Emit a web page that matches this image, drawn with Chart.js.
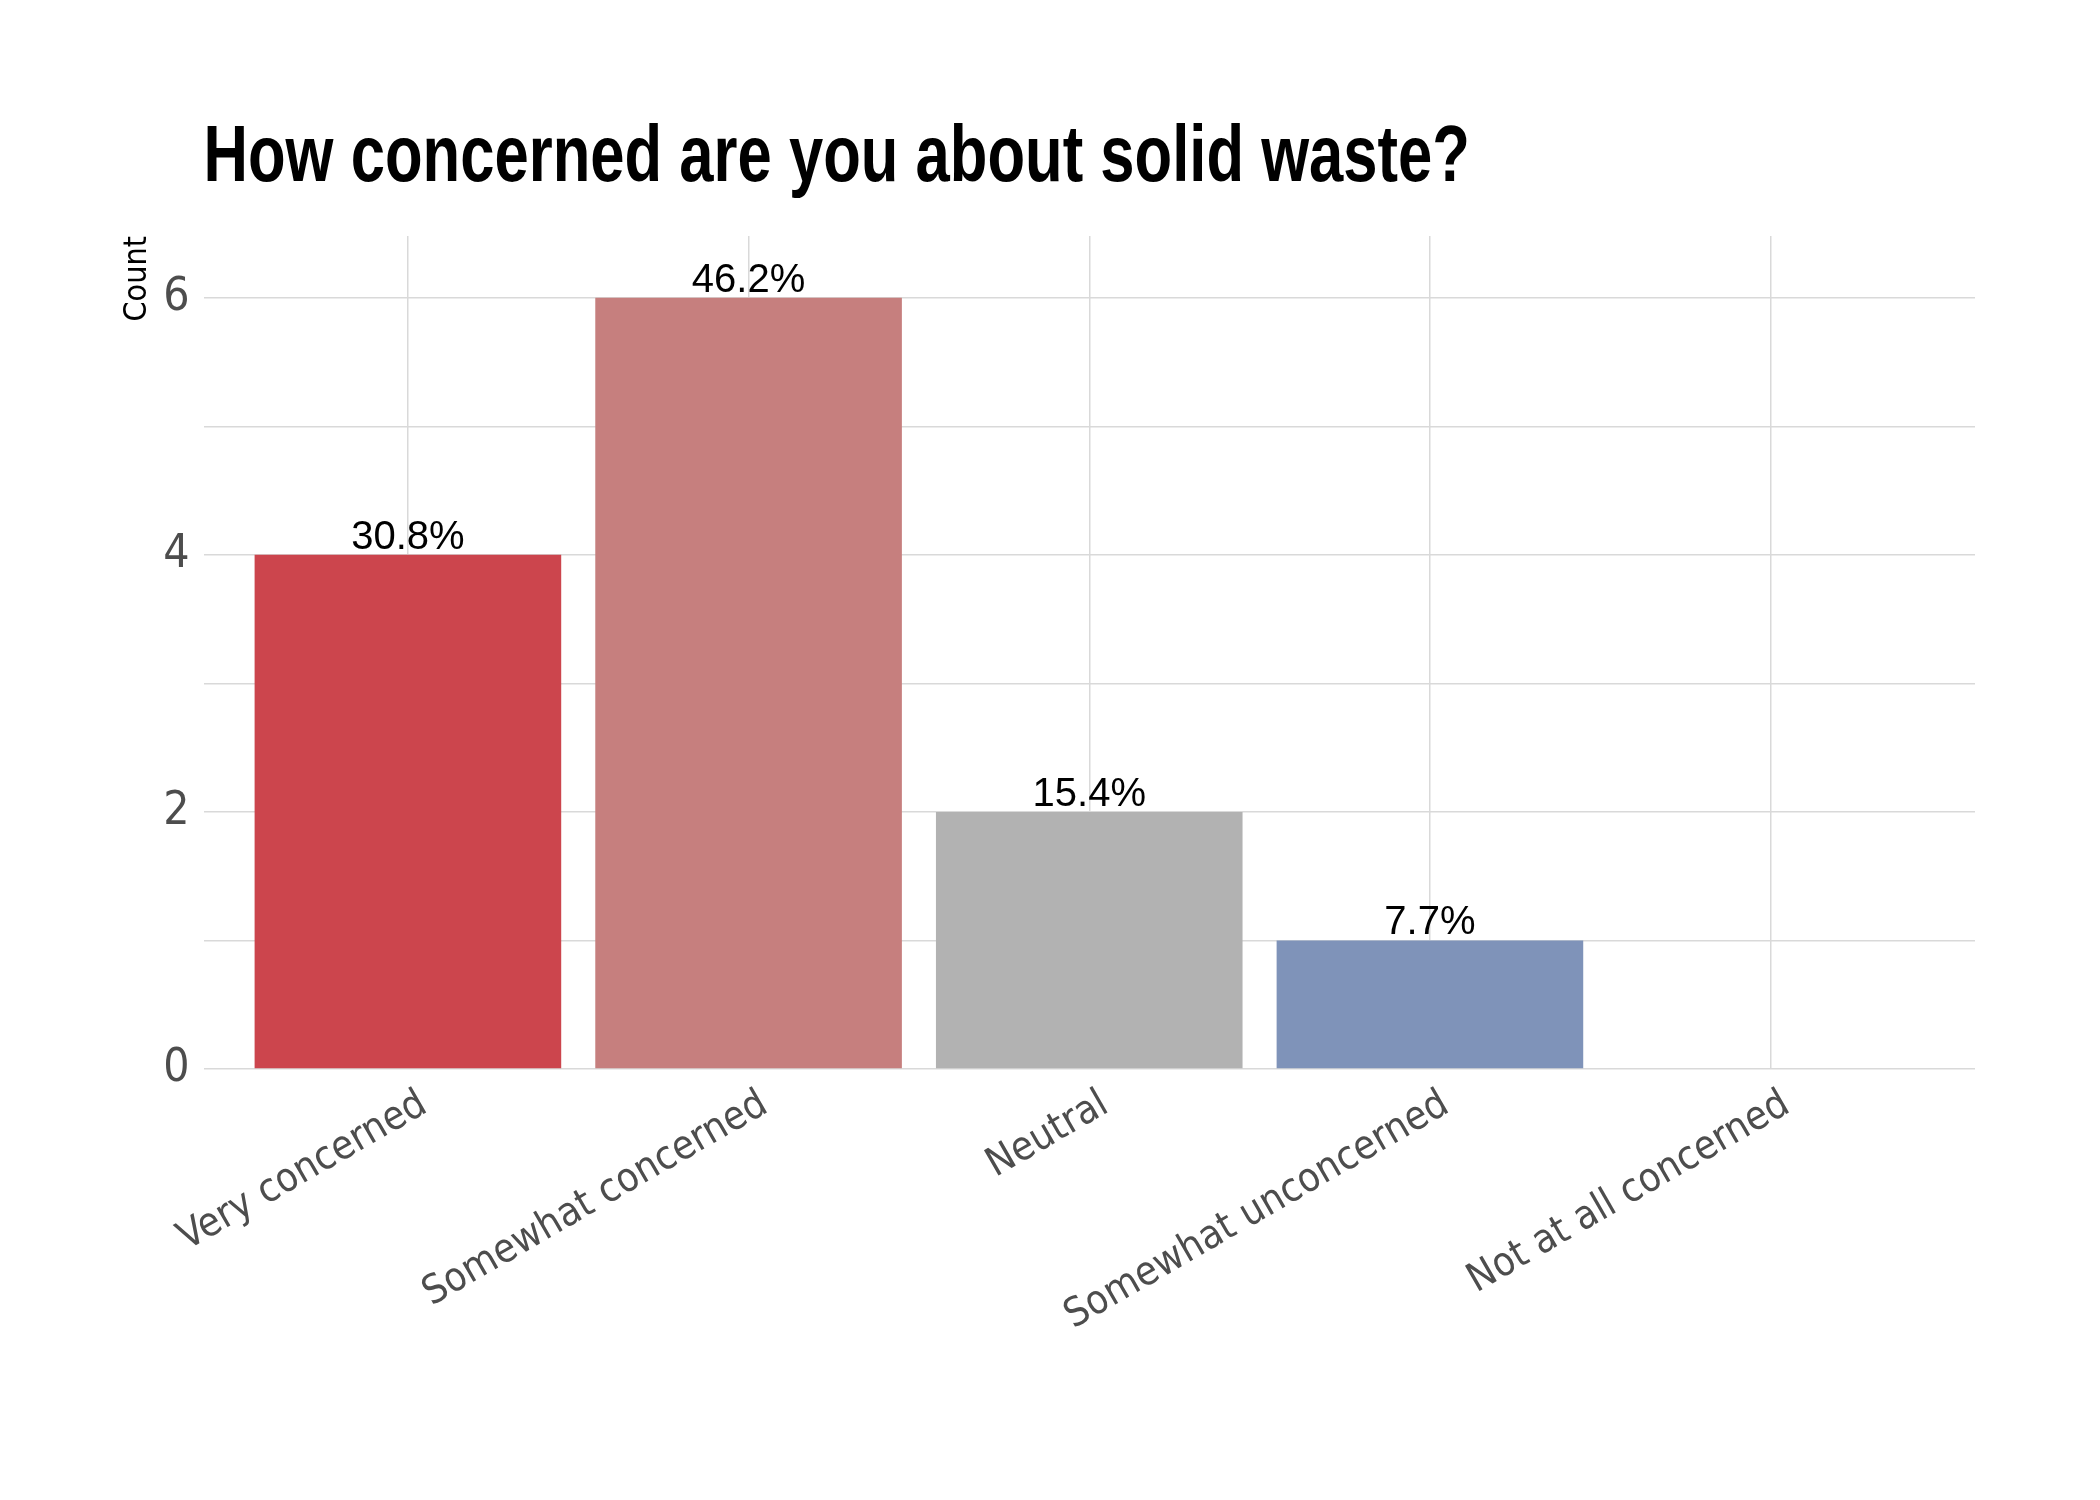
<!DOCTYPE html>
<html lang="en">
<head>
    <meta charset="UTF-8">
    <title>How concerned are you about solid waste?</title>
    <script src="https://cdn.jsdelivr.net/npm/chart.js"></script>
    <style>
        body {
            margin: 0;
            background: #ffffff;
        }
        canvas {
            display: block;
        }
    </style>
</head>
<body>
    <canvas id="chart" width="2100" height="1500"></canvas>

    <script>
        const chartTitle = 'How concerned are you about solid waste?';
        const categories = ['Very concerned', 'Somewhat concerned', 'Neutral', 'Somewhat unconcerned', 'Not at all concerned'];
        const counts = [4, 6, 2, 1, 0];
        const pctLabels = ['30.8%', '46.2%', '15.4%', '7.7%', ''];
        const barColors = ['#CC454D', '#C67F7E', '#B2B2B2', '#7F93B9', '#4F6FA8'];
        const yTicks = [0, 1, 2, 3, 4, 5, 6];

        const narrow = '"Liberation Sans Narrow", "Arial Narrow", "DejaVu Sans Condensed", sans-serif';
        const gridColor = '#d9d9d9';

        // percent text above each bar + condensed bold title
        const extraText = {
            id: 'extraText',
            afterDatasetsDraw(chart) {
                const ctx = chart.ctx;
                const meta = chart.getDatasetMeta(0);
                ctx.save();
                ctx.font = '40px "Liberation Sans", Arial, sans-serif';
                ctx.fillStyle = '#000000';
                ctx.textAlign = 'center';
                ctx.textBaseline = 'alphabetic';
                meta.data.forEach((bar, i) => {
                    if (!pctLabels[i]) return;
                    ctx.fillText(pctLabels[i], bar.x, bar.y - 6);
                });
                ctx.restore();

                // no narrow bold face installed, so squeeze Liberation Sans Bold
                ctx.save();
                ctx.font = 'bold 80px "Liberation Sans", Arial, sans-serif';
                ctx.fillStyle = '#000000';
                ctx.textAlign = 'left';
                ctx.textBaseline = 'alphabetic';
                ctx.translate(chart.chartArea.left, 181);
                ctx.scale(0.77, 1);
                ctx.fillText(chartTitle, 0, 0);
                ctx.restore();
            }
        };

        const ctx = document.getElementById('chart').getContext('2d');
        new Chart(ctx, {
            type: 'bar',
            data: {
                datasets: [{
                    data: counts.map((c, i) => ({ x: i + 1, y: c })),
                    backgroundColor: barColors,
                    borderWidth: 0,
                    barPercentage: 0.9,
                    categoryPercentage: 1.0
                }]
            },
            options: {
                responsive: false,
                animation: false,
                layout: {
                    padding: { top: 236, left: 100, right: 125, bottom: 0 }
                },
                plugins: {
                    legend: { display: false },
                    tooltip: { enabled: false }
                },
                scales: {
                    x: {
                        type: 'linear',
                        offset: false,
                        min: 0.4,
                        max: 5.6,
                        afterBuildTicks: (scale) => {
                            scale.ticks = categories.map((c, i) => ({ value: i + 1 }));
                        },
                        afterFit: (scale) => { scale.height = 431; },
                        grid: { color: gridColor, lineWidth: 1.5, drawTicks: false, offset: false },
                        border: { display: false },
                        ticks: {
                            autoSkip: false,
                            minRotation: 30,
                            maxRotation: 30,
                            padding: 12,
                            labelOffset: 16,
                            color: '#4d4d4d',
                            font: { family: narrow, size: 40 },
                            callback: (value, index) => categories[index]
                        }
                    },
                    y: {
                        min: 0,
                        max: 6.48,
                        afterBuildTicks: (scale) => {
                            scale.ticks = yTicks.map(v => ({ value: v }));
                        },
                        afterFit: (scale) => { scale.width = 103.5; },
                        grid: { color: gridColor, lineWidth: 1.5, drawTicks: false },
                        border: { display: false },
                        ticks: {
                            padding: 14,
                            color: '#4d4d4d',
                            font: { family: narrow, size: 46 },
                            callback: (value) => (value % 2 === 0 ? value : '')
                        },
                        title: {
                            display: true,
                            text: 'Count',
                            align: 'end',
                            color: '#000000',
                            font: { family: narrow, size: 32, lineHeight: 1 },
                            padding: { top: 22, bottom: 0 }
                        }
                    }
                }
            },
            plugins: [extraText]
        });
    </script>
</body>
</html>
